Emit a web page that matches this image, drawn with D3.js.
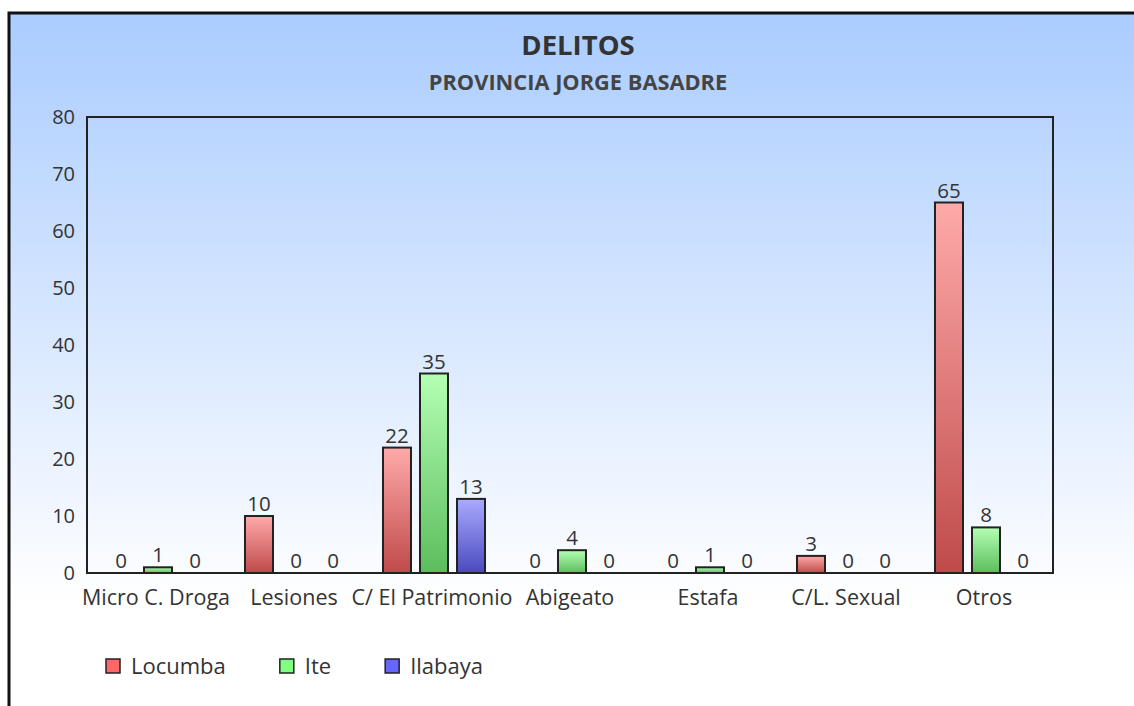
<!DOCTYPE html>
<html>
<head>
<meta charset="utf-8">
<script src="https://cdn.jsdelivr.net/npm/d3@7"></script>
<style>
  html, body { margin: 0; padding: 0; background: #fff; }
  svg { display: block; font-family: "Open Sans", "Noto Sans", sans-serif; }
</style>
</head>
<body>
<svg id="chart" width="1134" height="706"></svg>
<script>
const categories = ["Micro C. Droga", "Lesiones", "C/ El Patrimonio", "Abigeato", "Estafa", "C/L. Sexual", "Otros"];
const seriesNames = ["Locumba", "Ite", "Ilabaya"];
const locumba = [0, 10, 22, 0, 0, 3, 65];
const ite = [1, 0, 35, 4, 1, 0, 8];
const ilabaya = [0, 0, 13, 0, 0, 0, 0];
const yTicks = [0, 10, 20, 30, 40, 50, 60, 70, 80];

const seriesColors = [
    { top: "#ffaaaa", bottom: "#bf4a4a", legend: "#ff6666" },
    { top: "#b4ffb4", bottom: "#5cbd5c", legend: "#80ff80" },
    { top: "#aaaaff", bottom: "#4a4abf", legend: "#6666ff" }
];

const series = [locumba, ite, ilabaya].map((vals, i) => ({ name: seriesNames[i], values: vals, idx: i }));

const svg = d3.select("#chart");
const defs = svg.append("defs");

// fondo degradado
const bg = defs.append("linearGradient").attr("id", "bg").attr("x1", 0).attr("y1", 0).attr("x2", 0).attr("y2", 1);
bg.append("stop").attr("offset", "0%").attr("stop-color", "#aaccff");
bg.append("stop").attr("offset", "100%").attr("stop-color", "#ffffff");

seriesColors.forEach((c, i) => {
    const g = defs.append("linearGradient").attr("id", "grad" + i)
        .attr("x1", 0).attr("y1", 0).attr("x2", 0).attr("y2", 1);
    g.append("stop").attr("offset", "0%").attr("stop-color", c.top);
    g.append("stop").attr("offset", "100%").attr("stop-color", c.bottom);
});

svg.append("rect").attr("x", 9).attr("y", 13).attr("width", 1200).attr("height", 590).attr("fill", "url(#bg)");
svg.append("path").attr("d", "M9,720 V13 H1200").attr("fill", "none").attr("stroke", "#111").attr("stroke-width", 3);

svg.append("text").attr("x", 578).attr("y", 55).attr("text-anchor", "middle")
    .attr("font-size", 27.5).attr("font-weight", "bold").attr("fill", "#333").text("DELITOS");
svg.append("text").attr("x", 578).attr("y", 90).attr("text-anchor", "middle")
    .attr("font-size", 21.8).attr("font-weight", "bold").attr("fill", "#444").text("PROVINCIA JORGE BASADRE");

const plot = { left: 87, right: 1053, top: 117, bottom: 573 };

const x = d3.scaleBand().domain(categories).range([plot.left, plot.right]).paddingInner(0).paddingOuter(0);
const xs = d3.scaleBand().domain(d3.range(seriesNames.length)).range([2, x.bandwidth() + 2]).paddingInner(0.243).paddingOuter(0.486);
const y = d3.scaleLinear().domain([0, 80]).range([plot.bottom, plot.top]);

// etiquetas eje y
svg.append("g").attr("transform", `translate(${plot.left},0)`)
    .call(d3.axisLeft(y).tickValues(yTicks).tickSize(0).tickPadding(12))
    .call(g => g.select(".domain").remove())
    .call(g => g.selectAll("text").attr("font-size", 20).attr("fill", "#333").attr("font-family", "Open Sans, sans-serif"));

// etiquetas eje x
svg.append("g").attr("transform", `translate(0,${plot.bottom})`)
    .call(d3.axisBottom(x).tickSize(0).tickPadding(17))
    .call(g => g.select(".domain").remove())
    .call(g => g.selectAll("text").attr("font-size", 21.5).attr("fill", "#333").attr("font-family", "Open Sans, sans-serif"));

const groups = svg.append("g").selectAll("g").data(categories).join("g")
    .attr("transform", d => `translate(${x(d)},0)`);

groups.selectAll("rect").data((d, ci) => series.map(s => ({ s: s.idx, v: s.values[ci] })).filter(d => d.v > 0))
    .join("rect")
    .attr("x", d => xs(d.s))
    .attr("width", xs.bandwidth())
    .attr("y", d => y(d.v))
    .attr("height", d => y(0) - y(d.v))
    .attr("fill", d => "url(#grad" + d.s + ")")
    .attr("stroke", "#222")
    .attr("stroke-width", 2);

groups.selectAll("text").data((d, ci) => series.map(s => ({ s: s.idx, v: s.values[ci] })))
    .join("text")
    .attr("x", d => xs(d.s) + xs.bandwidth() / 2)
    .attr("y", d => y(d.v) - 5)
    .attr("text-anchor", "middle")
    .attr("font-size", 20.5)
    .attr("fill", "#333")
    .text(d => d.v);

// marco del área
svg.append("rect").attr("x", plot.left).attr("y", plot.top)
    .attr("width", plot.right - plot.left).attr("height", plot.bottom - plot.top)
    .attr("fill", "none").attr("stroke", "#222").attr("stroke-width", 2);

// leyenda
const legend = svg.append("g");
let lx = 106;
seriesNames.forEach((name, i) => {
    const item = legend.append("g").attr("transform", `translate(${lx},659)`);
    item.append("rect").attr("width", 14).attr("height", 14)
        .attr("fill", seriesColors[i].legend).attr("stroke", "#222").attr("stroke-width", 1.5);
    const t = item.append("text").attr("x", 25).attr("y", 15).attr("font-size", 22).attr("fill", "#333").text(name);
    lx += 25 + t.node().getComputedTextLength() + 54;
});
</script>
</body>
</html>
